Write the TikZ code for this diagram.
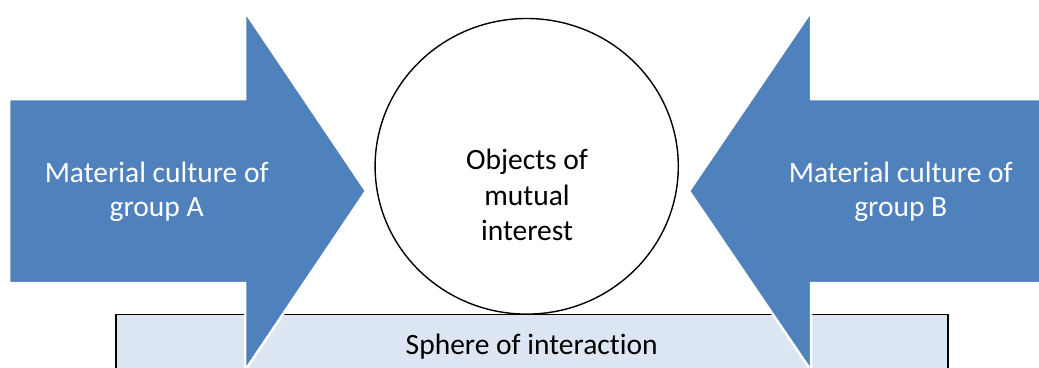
\documentclass[tikz,border=0pt]{standalone}
\usepackage{fontspec}
\setmainfont{Carlito}[Ligatures={NoCommon}]
\definecolor{arrowblue}{HTML}{4F81BD}
\definecolor{boxblue}{HTML}{DCE6F2}
\begin{document}
\begin{tikzpicture}[x=1pt,y={(0pt,-1pt)},
  bigarrow/.style={fill=arrowblue,draw=white,line width=2.5pt,line join=miter},
  sphere/.style={fill=boxblue,draw=black,line width=1.8pt},
  objcircle/.style={fill=white,draw=black,line width=1.4pt},
  whitetxt/.style={text=white,font=\fontsize{29.5}{34}\selectfont,inner sep=0pt,anchor=base},
  blacktxt/.style={text=black,font=\fontsize{29.5}{34}\selectfont,inner sep=0pt,anchor=base}]
\useasboundingbox (0,0) rectangle (1039,367);
\clip (0,0) rectangle (1039,367);
\fill[white] (0,0) rectangle (1039,367);
% sphere of interaction box
\draw[sphere] (115.7,314.5) rectangle (947.7,390);
\node[blacktxt] (sph) at (531.7,354.3) {Sphere of interaction};
% arrows
\draw[bigarrow] (9,99) -- (245,99) -- (245,11.5) -- (366,191) -- (245,370.5) -- (245,283) -- (9,283) -- cycle;
\draw[bigarrow] (1050,99) -- (811,99) -- (811,11.5) -- (689,191) -- (811,370.5) -- (811,283) -- (1050,283) -- cycle;
\node[whitetxt] (a1) at (156.7,182.3) {Material culture of};
\node[whitetxt] (a2) at (156.7,216) {group A};
\node[whitetxt] (b1) at (900.8,182.3) {Material culture of};
\node[whitetxt] (b2) at (900.8,216) {group B};
% circle
\draw[objcircle] (526.7,166.3) ellipse [x radius=151.6, y radius=147.8];
\coordinate (obj) at (526.7,166.3);
\node[blacktxt] (o1) at (527,169.3) {Objects of};
\node[blacktxt] (o2) at (527,205) {mutual};
\node[blacktxt] (o3) at (527,240.7) {interest};
\end{tikzpicture}
\end{document}
